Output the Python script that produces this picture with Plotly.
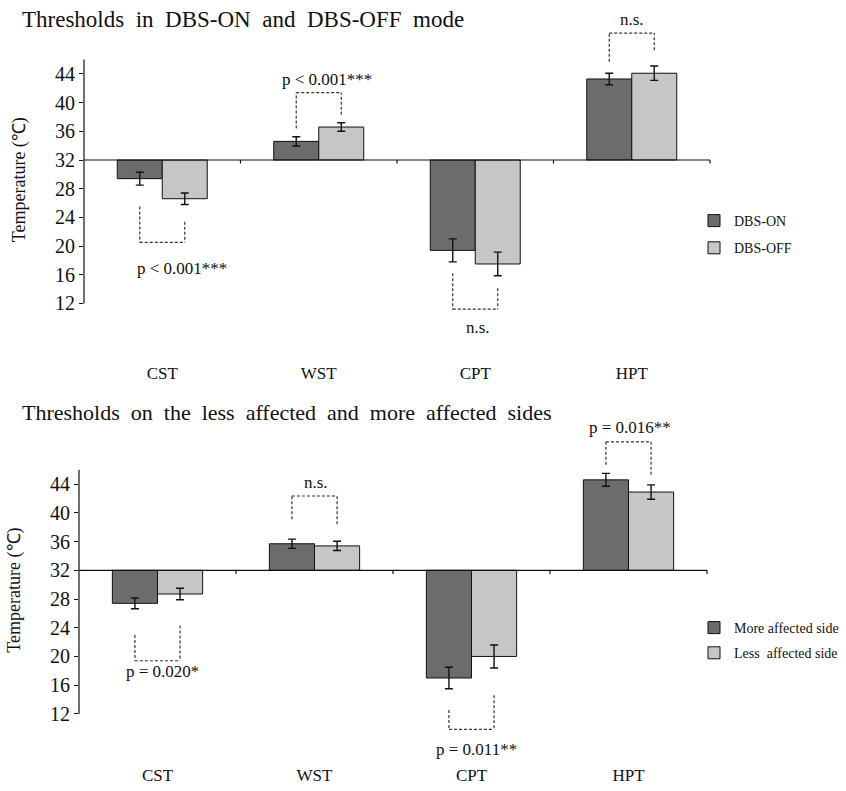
import plotly.graph_objects as go

# ---------------- data ----------------
categories = ["CST", "WST", "CPT", "HPT"]
reference_temp = 32
y_ticks = [12, 16, 20, 24, 28, 32, 36, 40, 44]

dbs_on = [29.4, 34.6, 19.4, 43.3]
dbs_on_err = [0.9, 0.65, 1.6, 0.8]
dbs_off = [26.6, 36.6, 17.5, 44.1]
dbs_off_err = [0.8, 0.6, 1.65, 1.0]

more_affected = [27.4, 35.7, 17.0, 44.6]
more_affected_err = [0.75, 0.65, 1.5, 0.9]
less_affected = [28.7, 35.4, 20.0, 42.9]
less_affected_err = [0.8, 0.65, 1.6, 1.0]

top_sig_labels = ["p < 0.001***", "p < 0.001***", "n.s.", "n.s."]
bottom_sig_labels = ["p = 0.020*", "n.s.", "p = 0.011**", "p = 0.016**"]

# bracket geometry (left end, right end, join level, text level, text x shift)
top_brackets = [
    (25.5, 23.4, 20.5, 16.9, 0.125),
    (36.4, 38.3, 41.4, 43.2, 0.05),
    (16.2, 14.1, 11.2, 8.6, 0.02),
    (45.7, 47.3, 49.7, 51.6, 0.0),
]
bottom_brackets = [
    (23.0, 24.3, 19.4, 17.9, 0.03),
    (39.1, 38.4, 42.35, 44.2, 0.01),
    (12.55, 14.6, 9.85, 7.0, 0.03),
    (46.7, 45.3, 49.9, 51.9, 0.01),
]

# ---------------- style ----------------
SERIF = "Liberation Serif, Times New Roman, serif"
DARK = "#6c6c6c"
LIGHT = "#c6c6c6"
BARGAP = 0.425
BAR_W = (1 - BARGAP) / 2
Y_RANGE = [8, 50.5]
AXIS_TOP = 46
W, H = 846, 791

TOP_YDOM = [(H - 332.1) / H, (H - 27.35) / H]
BOT_YDOM = [(H - 742.6) / H, (H - 437.5) / H]

fig = go.Figure()


def add_pair(vals_a, err_a, name_a, vals_b, err_b, name_b, xa, ya, legend):
    for vals, err, name, col in ((vals_a, err_a, name_a, DARK), (vals_b, err_b, name_b, LIGHT)):
        fig.add_trace(go.Bar(
            x=categories,
            y=[v - reference_temp for v in vals],
            base=reference_temp,
            name=name,
            legendgroup=name,
            legend=legend,
            xaxis=xa, yaxis=ya,
            marker=dict(color=col, line=dict(color="#111", width=1)),
            error_y=dict(type="data", array=err, visible=True,
                         color="#111", thickness=1.4, width=4),
        ))


add_pair(dbs_on, dbs_on_err, "DBS-ON", dbs_off, dbs_off_err, "DBS-OFF", "x", "y", "legend")
add_pair(more_affected, more_affected_err, "More affected side",
         less_affected, less_affected_err, "Less  affected side", "x2", "y2", "legend2")

shapes = []
annotations = []


def to_paper(val, ydom):
    return ydom[0] + (val - Y_RANGE[0]) / (Y_RANGE[1] - Y_RANGE[0]) * (ydom[1] - ydom[0])


def decorate(xref, yref, ydom, brackets, labels):
    dom = xref + " domain"
    line_style = dict(color="#111", width=1.2)
    # y spine from 12 to 46
    shapes.append(dict(type="line", xref=dom, yref=yref, x0=0, x1=0,
                       y0=y_ticks[0], y1=AXIS_TOP, line=line_style))
    # baseline at 32
    shapes.append(dict(type="line", xref=dom, yref=yref, x0=0, x1=1,
                       y0=reference_temp, y1=reference_temp, line=line_style))
    n = len(categories)
    for i in range(1, n + 1):
        shapes.append(dict(type="line", xref=dom, yref=yref, x0=i / n, x1=i / n,
                           y0=reference_temp, y1=reference_temp - 0.5, line=line_style))
    dash = dict(color="#333", width=1.2, dash="3px,2px")
    for i, (yl, yr, yj, yt, dx) in enumerate(brackets):
        xl = i - BAR_W / 2
        xr = i + BAR_W / 2
        shapes.append(dict(type="line", xref=xref, yref=yref, x0=xl, x1=xl, y0=yl, y1=yj, line=dash))
        shapes.append(dict(type="line", xref=xref, yref=yref, x0=xr, x1=xr, y0=yr, y1=yj, line=dash))
        shapes.append(dict(type="line", xref=xref, yref=yref, x0=xl, x1=xr, y0=yj, y1=yj, line=dash))
        annotations.append(dict(xref=xref, yref="paper", x=i + dx, y=to_paper(yt, ydom),
                                xanchor="center", yanchor="middle",
                                text=labels[i], showarrow=False,
                                font=dict(family=SERIF, size=17, color="#111")))


decorate("x", "y", TOP_YDOM, top_brackets, top_sig_labels)
decorate("x2", "y2", BOT_YDOM, bottom_brackets, bottom_sig_labels)

annotations.append(dict(xref="paper", yref="paper", x=20 / W, y=(H - 20) / H,
                        xanchor="left", yanchor="middle", showarrow=False,
                        text="Thresholds  in  DBS-ON  and  DBS-OFF  mode",
                        font=dict(family=SERIF, size=23, color="#111")))
annotations.append(dict(xref="paper", yref="paper", x=20 / W, y=(H - 413) / H,
                        xanchor="left", yanchor="middle", showarrow=False,
                        text="Thresholds  on  the  less  affected  and  more  affected  sides",
                        font=dict(family=SERIF, size=22, color="#111")))

xaxis_common = dict(
    type="category", range=[-0.5, 3.5], showline=False, showgrid=False, zeroline=False,
    ticks="outside", tickcolor="rgba(0,0,0,0)",
    tickfont=dict(family=SERIF, size=17, color="#111"),
)
yaxis_common = dict(
    range=Y_RANGE, tickvals=y_ticks, showline=False, showgrid=False, zeroline=False,
    ticks="outside", ticklen=4, tickcolor="#111", tickwidth=1.2,
    tickfont=dict(family=SERIF, size=20, color="#111"),
    title=dict(text="Temperature (℃)", font=dict(family=SERIF, size=18, color="#111"), standoff=24),
)

fig.update_layout(
    width=W, height=H,
    margin=dict(l=0, r=0, t=0, b=0, autoexpand=False),
    paper_bgcolor="white", plot_bgcolor="rgba(0,0,0,0)",
    barmode="group", bargap=BARGAP, bargroupgap=0,
    xaxis=dict(domain=[84 / W, 710 / W], anchor="y", ticklen=25, **xaxis_common),
    yaxis=dict(domain=TOP_YDOM, anchor="x", **yaxis_common),
    xaxis2=dict(domain=[79 / W, 707 / W], anchor="y2", ticklen=17, **xaxis_common),
    yaxis2=dict(domain=BOT_YDOM, anchor="x2", **yaxis_common),
    legend=dict(x=694 / W, y=(H - 205) / H, xanchor="left", yanchor="top",
                font=dict(family=SERIF, size=14, color="#111"), tracegroupgap=6,
                bgcolor="rgba(0,0,0,0)", traceorder="grouped"),
    legend2=dict(x=694 / W, y=(H - 612) / H, xanchor="left", yanchor="top",
                 font=dict(family=SERIF, size=14, color="#111"), tracegroupgap=4,
                 bgcolor="rgba(0,0,0,0)", traceorder="grouped"),
    shapes=shapes,
    annotations=annotations,
    showlegend=True,
)

fig.write_html("out.html", config={"displayModeBar": False},
               post_script="document.body.style.margin='0px';")
